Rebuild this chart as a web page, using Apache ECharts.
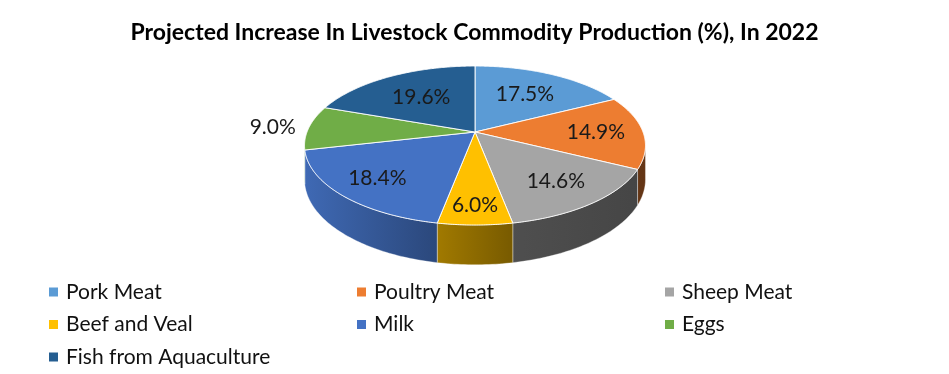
<!DOCTYPE html>
<html>
<head>
<meta charset="utf-8">
<script src="https://cdn.jsdelivr.net/npm/echarts@6/dist/echarts.min.js"></script>
<style>
  html, body { margin: 0; padding: 0; background: #fff; }
  #chart { width: 949px; height: 374px; }
</style>
</head>
<body>
<div id="chart"></div>
<script>
const TITLE = 'Projected Increase In Livestock Commodity Production (%), In 2022';
const CATEGORIES = ['Pork Meat', 'Poultry Meat', 'Sheep Meat', 'Beef and Veal', 'Milk', 'Eggs', 'Fish from Aquaculture'];
const VALUES = [17.5, 14.9, 14.6, 6.0, 18.4, 9.0, 19.6];
const COLORS = ['#5B9BD5', '#ED7D31', '#A5A5A5', '#FFC000', '#4472C4', '#70AD47', '#255E91'];
// label distance from centre (fraction of radius) per slice - layout only
const LABEL_R = [0.62, 0.72, 0.72, 0.82, 0.76, 1.22, 0.6];
const LEGEND_COLUMNS = [
  ['Pork Meat', 'Beef and Veal', 'Fish from Aquaculture'],
  ['Poultry Meat', 'Milk'],
  ['Sheep Meat', 'Eggs']
];

// 3D pie geometry (perspective projection of a tilted disc)
const CX = 475, CY = 132, R = 168, RY = 77.2, A = 0.17, H = 33;
const total = VALUES.reduce((s, v) => s + v, 0);
const starts = [];
{ let acc = 0; VALUES.forEach(v => { starts.push(acc / total * Math.PI * 2); acc += v; }); }

function proj(theta, r) {
  const c = Math.cos(theta), s = Math.sin(theta);
  const k = 1 / (1 + A * r * c);
  return [CX + R * r * s * k, CY - RY * r * c * k];
}
function shade(hex, f) {
  const n = parseInt(hex.slice(1), 16);
  const r = Math.round(((n >> 16) & 255) * f), g = Math.round(((n >> 8) & 255) * f), b = Math.round((n & 255) * f);
  return 'rgb(' + r + ',' + g + ',' + b + ')';
}
const silL = Math.acos(-A), silR = 2 * Math.PI - Math.acos(-A); // visible front side range

function renderItem(params, api) {
  const i = params.dataIndex;
  const t0 = starts[i];
  const t1 = t0 + api.value(0) / total * Math.PI * 2;
  const children = [];
  // side wall
  const s0 = Math.max(t0, silL), s1 = Math.min(t1, silR);
  if (s1 > s0) {
    const top = [], bot = [];
    const n = Math.max(2, Math.ceil((s1 - s0) / (Math.PI / 180)));
    for (let j = 0; j <= n; j++) {
      const t = s0 + (s1 - s0) * j / n;
      const p = proj(t, 1);
      const k = 1 / (1 + A * Math.cos(t));
      top.push(p);
      bot.push([p[0], p[1] + H * k]);
    }
    const c = COLORS[i];
    children.push({
      type: 'polygon', z2: 1,
      shape: { points: top.concat(bot.reverse()) },
      style: {
        fill: { type: 'linear', x: 305, y: 0, x2: 645, y2: 0, global: true,
          colorStops: [
            { offset: 0, color: shade(c, 0.92) },
            { offset: 0.35, color: shade(c, 0.66) },
            { offset: 0.6, color: shade(c, 0.48) },
            { offset: 1, color: shade(c, 0.42) }
          ] },
        stroke: 'rgba(255,255,255,0.45)', lineWidth: 0.8
      }
    });
  }
  // top face
  const pts = [proj(0, 0)];
  const m = Math.max(2, Math.ceil((t1 - t0) / (Math.PI / 360)));
  for (let j = 0; j <= m; j++) pts.push(proj(t0 + (t1 - t0) * j / m, 1));
  children.push({
    type: 'polygon', z2: 5,
    shape: { points: pts },
    style: { fill: COLORS[i], stroke: 'rgba(255,255,255,0.9)', lineWidth: 1, lineJoin: 'round' }
  });
  // label
  const lp = proj((t0 + t1) / 2, LABEL_R[i]);
  children.push({
    type: 'text', z2: 10,
    x: lp[0], y: lp[1],
    style: {
      text: api.value(0).toFixed(1) + '%',
      fill: '#1a1a1a', fontSize: 21, fontFamily: 'Lato',
      align: 'center', verticalAlign: 'middle'
    }
  });
  return { type: 'group', children: children };
}

const chart = echarts.init(document.getElementById('chart'));
const pieData = CATEGORIES.map((name, i) => ({ name: name, value: VALUES[i] }));
chart.setOption({
  animation: false,
  color: COLORS,
  title: {
    text: TITLE, left: 'center', top: 16,
    textStyle: { fontFamily: 'Lato', fontWeight: 'bold', fontSize: 23, color: '#000' }
  },
  legend: LEGEND_COLUMNS.map((names, ci) => ({
    data: names,
    orient: 'vertical',
    left: [49, 357, 665][ci],
    top: 281,
    height: 92,
    padding: 0,
    icon: 'rect', itemWidth: 9, itemHeight: 9,
    itemGap: 10.5,
    selectedMode: false,
    textStyle: { fontFamily: 'Lato', fontSize: 21, color: '#111', lineHeight: 22, padding: [0, 0, 0, 3] }
  })),
  series: [
    {
      type: 'pie', name: 'legend-source', silent: true,
      center: [-500, -500], radius: 5,
      label: { show: false }, labelLine: { show: false },
      data: pieData
    },
    {
      type: 'custom', name: 'Projected Increase', coordinateSystem: 'none',
      silent: true,
      renderItem: renderItem,
      data: VALUES.map(v => [v])
    }
  ]
});
</script>
</body>
</html>
